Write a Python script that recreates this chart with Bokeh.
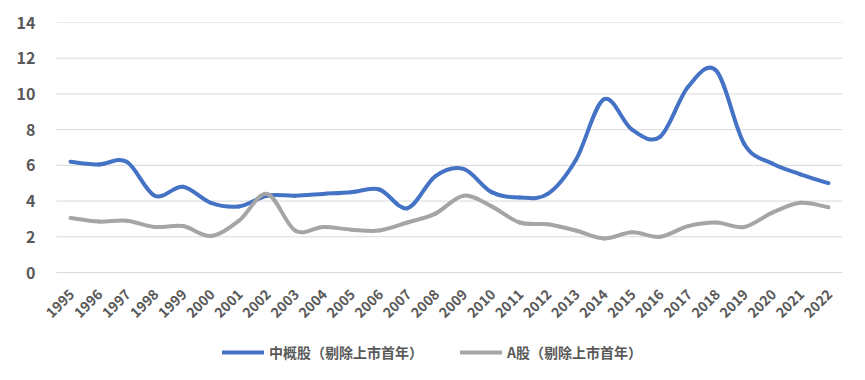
import numpy as np
from bokeh.plotting import figure
from bokeh.models import FixedTicker, Legend, LegendItem, ColumnDataSource
from bokeh.embed import file_html
from bokeh.resources import INLINE

years = list(range(1995, 2023))
year_labels = [str(y) for y in years]
china_concept = [6.2, 6.05, 6.2, 4.3, 4.8, 3.9, 3.7, 4.3, 4.3, 4.4, 4.5, 4.65, 3.6, 5.4,
                 5.8, 4.5, 4.2, 4.4, 6.3, 9.7, 8.0, 7.6, 10.4, 11.3, 7.2, 6.1, 5.5, 5.0]
a_share = [3.05, 2.85, 2.9, 2.55, 2.6, 2.05, 2.9, 4.4, 2.35, 2.55, 2.4, 2.35, 2.8, 3.3,
           4.3, 3.7, 2.8, 2.7, 2.35, 1.9, 2.25, 2.0, 2.6, 2.8, 2.55, 3.35, 3.9, 3.65]
y_ticks = [0, 2, 4, 6, 8, 10, 12, 14]
label_cn = "中概股（剔除上市首年）"
label_a = "A股（剔除上市首年）"

FONT = "Noto Sans CJK SC"
TXT = "#595959"

# layout (pixels)
W, H = 849, 364
TOP, LEFT, RIGHT = 22, 38, 7
GRID_LEFT_PAD = 18                # frame starts this far left of the gridlines
PLOT_W = W - LEFT - RIGHT - GRID_LEFT_PAD
PLOT_H = 250                      # height of the 0..14 region
x_lo, x_hi = years[0] - 0.5, years[-1] + 0.5
x_units_per_px = (x_hi - x_lo) / PLOT_W
y_units_per_px = (y_ticks[-1] - y_ticks[0]) / PLOT_H
extra_below = (H - TOP - PLOT_H) * y_units_per_px


def smooth_segments(xs, ys):
    # Bezier control points (Catmull-Rom style, as in a smoothed spreadsheet line)
    x = np.asarray(xs, float)
    y = np.asarray(ys, float)
    xp = np.concatenate([[x[0]], x, [x[-1]]])
    yp = np.concatenate([[y[0]], y, [y[-1]]])
    n = len(x)
    d = dict(x0=[], y0=[], x1=[], y1=[], cx0=[], cy0=[], cx1=[], cy1=[])
    for i in range(n - 1):
        j = i + 1
        d["x0"].append(xp[j]); d["y0"].append(yp[j])
        d["x1"].append(xp[j + 1]); d["y1"].append(yp[j + 1])
        d["cx0"].append(xp[j] + (xp[j + 1] - xp[j - 1]) / 6)
        d["cy0"].append(yp[j] + (yp[j + 1] - yp[j - 1]) / 6)
        d["cx1"].append(xp[j + 1] - (xp[j + 2] - xp[j]) / 6)
        d["cy1"].append(yp[j + 1] - (yp[j + 2] - yp[j]) / 6)
    return ColumnDataSource(d)


p = figure(width=W, height=H, output_backend="svg", toolbar_location=None,
           x_range=(x_lo - GRID_LEFT_PAD * x_units_per_px, x_hi),
           y_range=(y_ticks[0] - extra_below, y_ticks[-1]),
           min_border_left=LEFT, min_border_right=RIGHT, min_border_top=TOP, min_border_bottom=0)
p.outline_line_color = None
p.background_fill_color = "white"
p.xgrid.grid_line_color = None
p.ygrid.grid_line_color = None

# horizontal gridlines spanning the category area only
p.segment(x0=[x_lo] * len(y_ticks), x1=[x_hi] * len(y_ticks), y0=y_ticks, y1=y_ticks,
          line_color="#D9D9D9", line_width=1)

r1 = p.bezier(x0="x0", y0="y0", x1="x1", y1="y1", cx0="cx0", cy0="cy0", cx1="cx1", cy1="cy1",
              source=smooth_segments(years, china_concept), line_color="#4472C4", line_width=4,
              line_cap="round")
r2 = p.bezier(x0="x0", y0="y0", x1="x1", y1="y1", cx0="cx0", cy0="cy0", cx1="cx1", cy1="cy1",
              source=smooth_segments(years, a_share), line_color="#A5A5A5", line_width=4,
              line_cap="round")

# category labels along the bottom, rotated
p.text(x=years, y=[y_ticks[0]] * len(years), text=year_labels, angle=np.pi / 4,
       text_align="right", text_baseline="middle", x_offset=1, y_offset=19,
       text_font={"value": FONT}, text_font_style="bold", text_font_size="14px",
       text_color=TXT)

p.yaxis.ticker = FixedTicker(ticks=y_ticks)
p.xaxis.visible = False
ax = p.yaxis[0]
ax.axis_line_color = None
ax.major_tick_line_color = None
ax.minor_tick_line_color = None
ax.major_tick_out = 0
ax.major_tick_in = 0
ax.minor_tick_out = 0
ax.major_label_text_font = FONT
ax.major_label_text_font_style = "bold"
ax.major_label_text_color = TXT
ax.major_label_text_font_size = "16px"
ax.major_label_standoff = 3

legend = Legend(items=[LegendItem(label=label_cn, renderers=[r1]),
                       LegendItem(label=label_a, renderers=[r2])],
                orientation="horizontal", location=(166 + GRID_LEFT_PAD, 2),
                label_text_font=FONT, label_text_font_style="bold",
                label_text_font_size="14px", label_text_color=TXT,
                glyph_width=42, label_standoff=5, spacing=37,
                border_line_color=None, background_fill_alpha=0,
                margin=0, padding=0)
p.add_layout(legend, "center")

open("out.html", "w").write(file_html(p, INLINE))
